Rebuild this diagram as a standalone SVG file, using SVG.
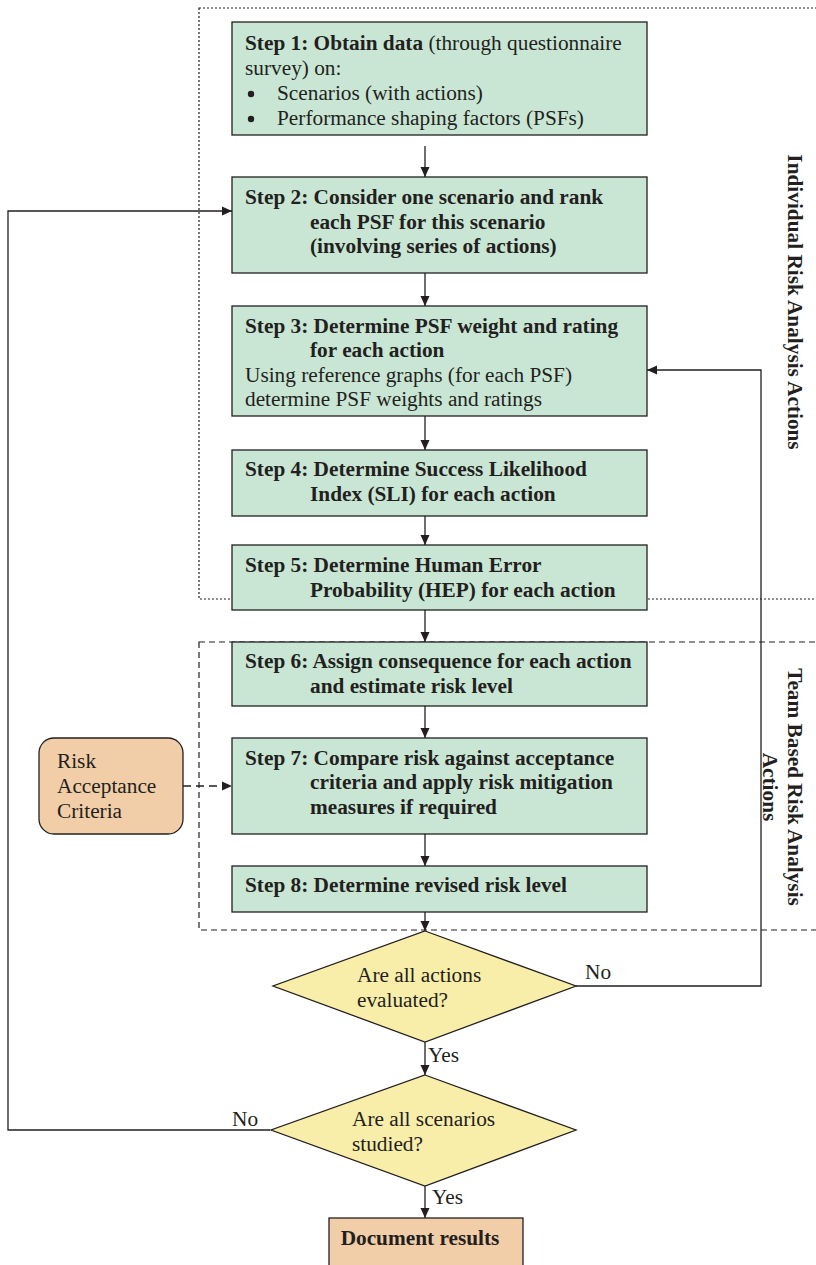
<svg xmlns="http://www.w3.org/2000/svg" width="816" height="1265" viewBox="0 0 816 1265">
<style>
text{font-family:"Liberation Serif","Times New Roman",serif;font-size:21.3px;fill:#231f20}
.b{font-weight:bold}
.bul{fill:#231f20}
.step{fill:#c9e6d5;stroke:#231f20;stroke-width:1.3}
.dia{fill:#f8eeaa;stroke:#231f20;stroke-width:1.3}
.org{fill:#f2cea8;stroke:#231f20;stroke-width:1.3}
.ln{fill:none;stroke:#231f20;stroke-width:1.3}
.grp1{fill:none;stroke:#231f20;stroke-width:1.2;stroke-dasharray:2 2}
.grp2{fill:none;stroke:#231f20;stroke-width:1.2;stroke-dasharray:6 4}
</style>
<defs>
<marker id="ah" viewBox="0 0 10 10" refX="10" refY="5" markerWidth="10" markerHeight="10" markerUnits="userSpaceOnUse" orient="auto">
<path d="M0,0.5 L10,5 L0,9.5 Z" fill="#231f20"/>
</marker>
</defs>
<g id="groups">
<rect class="grp1" x="199" y="8" width="630" height="591"/>
<rect class="grp2" x="199" y="642" width="630" height="288"/>
<text class="b" transform="translate(788,302) rotate(90)" text-anchor="middle">Individual Risk Analysis Actions</text>
<text class="b" transform="translate(788,787) rotate(90)" text-anchor="middle">Team Based Risk Analysis</text>
<text class="b" transform="translate(763,787) rotate(90)" text-anchor="middle">Actions</text>
</g>
<g id="connectors">
<line class="ln" x1="425" y1="146" x2="425" y2="177" marker-end="url(#ah)"/>
<line class="ln" x1="425" y1="273" x2="425" y2="306" marker-end="url(#ah)"/>
<line class="ln" x1="425" y1="416" x2="425" y2="450" marker-end="url(#ah)"/>
<line class="ln" x1="425" y1="516" x2="425" y2="545" marker-end="url(#ah)"/>
<line class="ln" x1="425" y1="610" x2="425" y2="642" marker-end="url(#ah)"/>
<line class="ln" x1="425" y1="706" x2="425" y2="738" marker-end="url(#ah)"/>
<line class="ln" x1="425" y1="834" x2="425" y2="866" marker-end="url(#ah)"/>
<line class="ln" x1="425" y1="912" x2="425" y2="931" marker-end="url(#ah)"/>
<line class="ln" x1="425" y1="1042" x2="425" y2="1075" marker-end="url(#ah)"/>
<line class="ln" x1="425" y1="1186" x2="425" y2="1218" marker-end="url(#ah)"/>
<polyline class="ln" points="576,986 761,986 761,370 647,370" marker-end="url(#ah)"/>
<polyline class="ln" points="270,1130 8,1130 8,211 232,211" marker-end="url(#ah)"/>
<line class="ln" x1="183" y1="786" x2="232" y2="786" stroke-dasharray="8 5" marker-end="url(#ah)"/>
<text x="585" y="979">No</text>
<text x="232" y="1126">No</text>
<text x="428" y="1062">Yes</text>
<text x="432" y="1204">Yes</text>
</g>
<g id="step1">
<rect class="step" x="232" y="22" width="415" height="113"/>
<text x="245" y="50"><tspan class="b">Step 1: Obtain data</tspan> (through questionnaire</text>
<text x="245" y="75">survey) on:</text>
<circle class="bul" cx="251" cy="94" r="3.2"/><text x="277" y="100">Scenarios (with actions)</text>
<circle class="bul" cx="251" cy="119" r="3.2"/><text x="277" y="125">Performance shaping factors (PSFs)</text>
</g>
<g id="step2">
<rect class="step" x="232" y="177" width="415" height="96"/>
<text class="b" x="245" y="204">Step 2: Consider one scenario and rank</text>
<text class="b" x="310" y="229">each PSF for this scenario</text>
<text class="b" x="310" y="253">(involving series of actions)</text>
</g>
<g id="step3">
<rect class="step" x="232" y="306" width="415" height="110"/>
<text class="b" x="245" y="333">Step 3: Determine PSF weight and rating</text>
<text class="b" x="310" y="357">for each action</text>
<text x="245" y="382">Using reference graphs (for each PSF)</text>
<text x="245" y="406">determine PSF weights and ratings</text>
</g>
<g id="step4">
<rect class="step" x="232" y="450" width="415" height="66"/>
<text class="b" x="245" y="476">Step 4: Determine Success Likelihood</text>
<text class="b" x="310" y="501">Index (SLI) for each action</text>
</g>
<g id="step5">
<rect class="step" x="232" y="545" width="415" height="65"/>
<text class="b" x="245" y="572">Step 5: Determine Human Error</text>
<text class="b" x="310" y="597">Probability (HEP) for each action</text>
</g>
<g id="step6">
<rect class="step" x="232" y="642" width="415" height="64"/>
<text class="b" x="245" y="668">Step 6: Assign consequence for each action</text>
<text class="b" x="310" y="693">and estimate risk level</text>
</g>
<g id="step7">
<rect class="step" x="232" y="738" width="415" height="96"/>
<text class="b" x="245" y="765">Step 7: Compare risk against acceptance</text>
<text class="b" x="310" y="789">criteria and apply risk mitigation</text>
<text class="b" x="310" y="814">measures if required</text>
</g>
<g id="step8">
<rect class="step" x="232" y="866" width="415" height="46"/>
<text class="b" x="245" y="892">Step 8: Determine revised risk level</text>
</g>
<g id="risk-criteria">
<rect class="org" x="39" y="738" width="144" height="96" rx="15"/>
<text x="57" y="768">Risk</text>
<text x="57" y="793">Acceptance</text>
<text x="57" y="818">Criteria</text>
</g>
<g id="decision1">
<polygon class="dia" points="425,931 576,986 425,1042 273,986"/>
<text x="357" y="982">Are all actions</text>
<text x="357" y="1007">evaluated?</text>
</g>
<g id="decision2">
<polygon class="dia" points="425,1075 576,1130 425,1186 271,1130"/>
<text x="352" y="1126">Are all scenarios</text>
<text x="352" y="1151">studied?</text>
</g>
<g id="document">
<rect class="org" x="329" y="1218" width="194" height="60"/>
<text class="b" x="420" y="1245" text-anchor="middle">Document results</text>
</g>
</svg>
